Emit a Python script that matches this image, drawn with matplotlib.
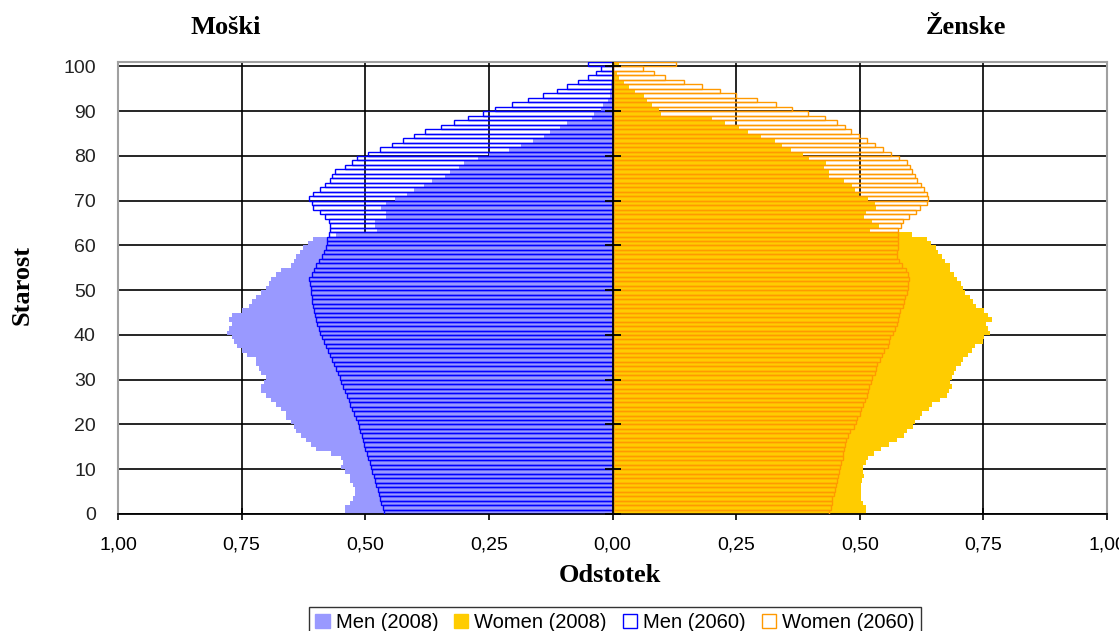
"""Population pyramid: Slovenia 2008 vs. 2060 projection (share of population by age)."""

import matplotlib

matplotlib.use("Agg")
import matplotlib.pyplot as plt
from matplotlib.patches import Patch

ages = list(range(0, 101))

# percent of total population
men_2008 = [
    0.54, 0.54, 0.53, 0.525, 0.52, 0.52, 0.525, 0.53, 0.53, 0.54,
    0.55, 0.545, 0.55, 0.57, 0.60, 0.61, 0.62, 0.63, 0.64, 0.645,
    0.65, 0.66, 0.66, 0.67, 0.68, 0.69, 0.70, 0.71, 0.71, 0.705,
    0.70, 0.71, 0.715, 0.72, 0.72, 0.74, 0.75, 0.76, 0.765, 0.77,
    0.78, 0.775, 0.77, 0.775, 0.77, 0.75, 0.735, 0.73, 0.72, 0.71,
    0.70, 0.695, 0.69, 0.68, 0.67, 0.65, 0.645, 0.64, 0.632, 0.625,
    0.615, 0.605, 0.56, 0.476, 0.48, 0.48, 0.459, 0.459, 0.469, 0.459,
    0.439, 0.415, 0.402, 0.382, 0.365, 0.338, 0.328, 0.311, 0.301, 0.273,
    0.25, 0.21, 0.186, 0.16, 0.139, 0.126, 0.107, 0.092, 0.042, 0.038,
    0.024, 0.019, 0.01, 0.006, 0.005, 0.004, 0.003, 0.002, 0.002, 0.001,
    0.002,
]
women_2008 = [
    0.513, 0.513, 0.506, 0.502, 0.502, 0.502, 0.502, 0.505, 0.508, 0.506,
    0.506, 0.513, 0.517, 0.528, 0.542, 0.56, 0.575, 0.59, 0.596, 0.607,
    0.612, 0.622, 0.625, 0.64, 0.647, 0.662, 0.676, 0.68, 0.687, 0.683,
    0.687, 0.691, 0.694, 0.705, 0.709, 0.718, 0.727, 0.734, 0.749, 0.752,
    0.763, 0.759, 0.755, 0.767, 0.76, 0.752, 0.736, 0.73, 0.723, 0.712,
    0.709, 0.705, 0.697, 0.69, 0.683, 0.683, 0.672, 0.667, 0.658, 0.654,
    0.645, 0.635, 0.605, 0.52, 0.538, 0.524, 0.508, 0.512, 0.532, 0.531,
    0.516, 0.498, 0.49, 0.484, 0.468, 0.437, 0.437, 0.428, 0.431, 0.398,
    0.385, 0.36, 0.343, 0.328, 0.3, 0.275, 0.255, 0.227, 0.202, 0.098,
    0.094, 0.079, 0.07, 0.063, 0.045, 0.034, 0.024, 0.014, 0.009, 0.004,
    0.014,
]
men_2060 = [
    0.463, 0.465, 0.468, 0.47, 0.472, 0.475, 0.478, 0.48, 0.483, 0.486,
    0.489, 0.491, 0.494, 0.497, 0.50, 0.502, 0.505, 0.507, 0.51, 0.512,
    0.514, 0.518, 0.522, 0.526, 0.53, 0.533, 0.537, 0.541, 0.545, 0.549,
    0.552, 0.556, 0.56, 0.564, 0.568, 0.572, 0.576, 0.58, 0.584, 0.588,
    0.591, 0.594, 0.597, 0.60, 0.602, 0.604, 0.606, 0.607, 0.608, 0.609,
    0.61, 0.612, 0.613, 0.608, 0.603, 0.599, 0.594, 0.588, 0.583, 0.58,
    0.577, 0.577, 0.574, 0.571, 0.571, 0.574, 0.581, 0.591, 0.605, 0.608,
    0.613, 0.605, 0.591, 0.581, 0.571, 0.567, 0.561, 0.54, 0.526, 0.516,
    0.495, 0.47, 0.446, 0.423, 0.402, 0.379, 0.346, 0.321, 0.293, 0.262,
    0.237, 0.203, 0.17, 0.14, 0.113, 0.092, 0.069, 0.049, 0.034, 0.023,
    0.049,
]
women_2060 = [
    0.438, 0.441, 0.443, 0.444, 0.448, 0.45, 0.451, 0.455, 0.457, 0.459,
    0.461, 0.462, 0.466, 0.467, 0.469, 0.471, 0.473, 0.477, 0.48, 0.489,
    0.492, 0.495, 0.50, 0.503, 0.506, 0.511, 0.514, 0.517, 0.519, 0.522,
    0.524, 0.53, 0.533, 0.535, 0.54, 0.545, 0.549, 0.557, 0.56, 0.562,
    0.567, 0.572, 0.575, 0.578, 0.58, 0.582, 0.588, 0.59, 0.591, 0.595,
    0.597, 0.598, 0.60, 0.597, 0.593, 0.586, 0.58, 0.575, 0.575, 0.577,
    0.577, 0.577, 0.578, 0.578, 0.583, 0.588, 0.60, 0.614, 0.622, 0.636,
    0.638, 0.636, 0.63, 0.623, 0.616, 0.611, 0.605, 0.601, 0.596, 0.58,
    0.564, 0.548, 0.531, 0.515, 0.499, 0.483, 0.47, 0.453, 0.429, 0.396,
    0.364, 0.331, 0.293, 0.249, 0.218, 0.182, 0.144, 0.107, 0.083, 0.061,
    0.129,
]

x_ticks = [-1.0, -0.75, -0.5, -0.25, 0.0, 0.25, 0.5, 0.75, 1.0]
x_tick_labels = ["1,00", "0,75", "0,50", "0,25", "0,00", "0,25", "0,50", "0,75", "1,00"]
age_ticks = list(range(0, 101, 10))
series_labels = ["Men (2008)", "Women (2008)", "Men (2060)", "Women (2060)"]

MEN_08 = "#9999FF"
WOMEN_08 = "#FFCC00"
MEN_60 = "#0000FF"
WOMEN_60 = "#FF9900"

SANS = "Liberation Sans"
SERIF = "Liberation Serif"

fig = plt.figure(figsize=(11.19, 6.31), dpi=100)
ax = fig.add_axes([118 / 1119, 1 - 514 / 631, (1107 - 118) / 1119, (514 - 62) / 631])

# 2008 filled bars, 2060 as hollow outlines on top
ax.barh(ages, [-v for v in men_2008], height=1, align="edge", color=MEN_08, linewidth=0, zorder=2)
ax.barh(ages, women_2008, height=1, align="edge", color=WOMEN_08, linewidth=0, zorder=2)
ax.barh(ages, [-v for v in men_2060], height=1, align="edge", fill=False,
        edgecolor=MEN_60, linewidth=1.0, zorder=3)
ax.barh(ages, women_2060, height=1, align="edge", fill=False,
        edgecolor=WOMEN_60, linewidth=1.0, zorder=3)

# centre axis with short tick marks every 10 years
ax.axvline(0, color="black", lw=1.3, zorder=4)
ax.plot([0] * len(age_ticks), age_ticks, ls="none", marker="_", ms=12, mew=1.3,
        color="black", zorder=4)

ax.set_xlim(-1, 1)
ax.set_ylim(0, 101)
ax.set_xticks(x_ticks, x_tick_labels, fontfamily=SANS, fontsize=14)
ax.set_yticks(age_ticks, [str(a) for a in age_ticks], fontfamily=SANS, fontsize=14,
              color="#222222")
ax.tick_params(axis="x", direction="inout", length=8, width=1.2, pad=12)
ax.tick_params(axis="y", length=0, pad=16)

ax.set_axisbelow(True)
ax.grid(True, color="black", lw=1.2)
for side in ["left", "right", "top"]:
    ax.spines[side].set_color("#A0A0A0")
    ax.spines[side].set_linewidth(1.5)
ax.spines["bottom"].set_color("black")
ax.spines["bottom"].set_linewidth(1.3)

fig.text(226 / 1119, 1 - 28 / 631, "Moški", ha="center", va="center",
         fontfamily=SERIF, fontweight="bold", fontsize=19)
fig.text(966 / 1119, 1 - 28 / 631, "Ženske", ha="center", va="center",
         fontfamily=SERIF, fontweight="bold", fontsize=19)
fig.text(22 / 1119, 1 - 285 / 631, "Starost", ha="center", va="center", rotation=90,
         fontfamily=SERIF, fontweight="bold", fontsize=19)
fig.text(610 / 1119, 1 - 576 / 631, "Odstotek", ha="center", va="center",
         fontfamily=SERIF, fontweight="bold", fontsize=19)

handles = [
    Patch(facecolor=MEN_08, edgecolor=MEN_08),
    Patch(facecolor=WOMEN_08, edgecolor=WOMEN_08),
    Patch(facecolor="white", edgecolor=MEN_60),
    Patch(facecolor="white", edgecolor=WOMEN_60),
]
leg = fig.legend(handles, series_labels, loc="upper center", ncol=4,
                 bbox_to_anchor=(615 / 1119, 1 - 607 / 631), frameon=True, fancybox=False,
                 edgecolor="black", prop={"family": SANS, "size": 14.5},
                 handlelength=0.7, handleheight=0.7, handletextpad=0.3,
                 columnspacing=0.8, borderpad=0.3, borderaxespad=0)
leg.get_frame().set_linewidth(1.0)

fig.savefig("out.png", dpi=100)
